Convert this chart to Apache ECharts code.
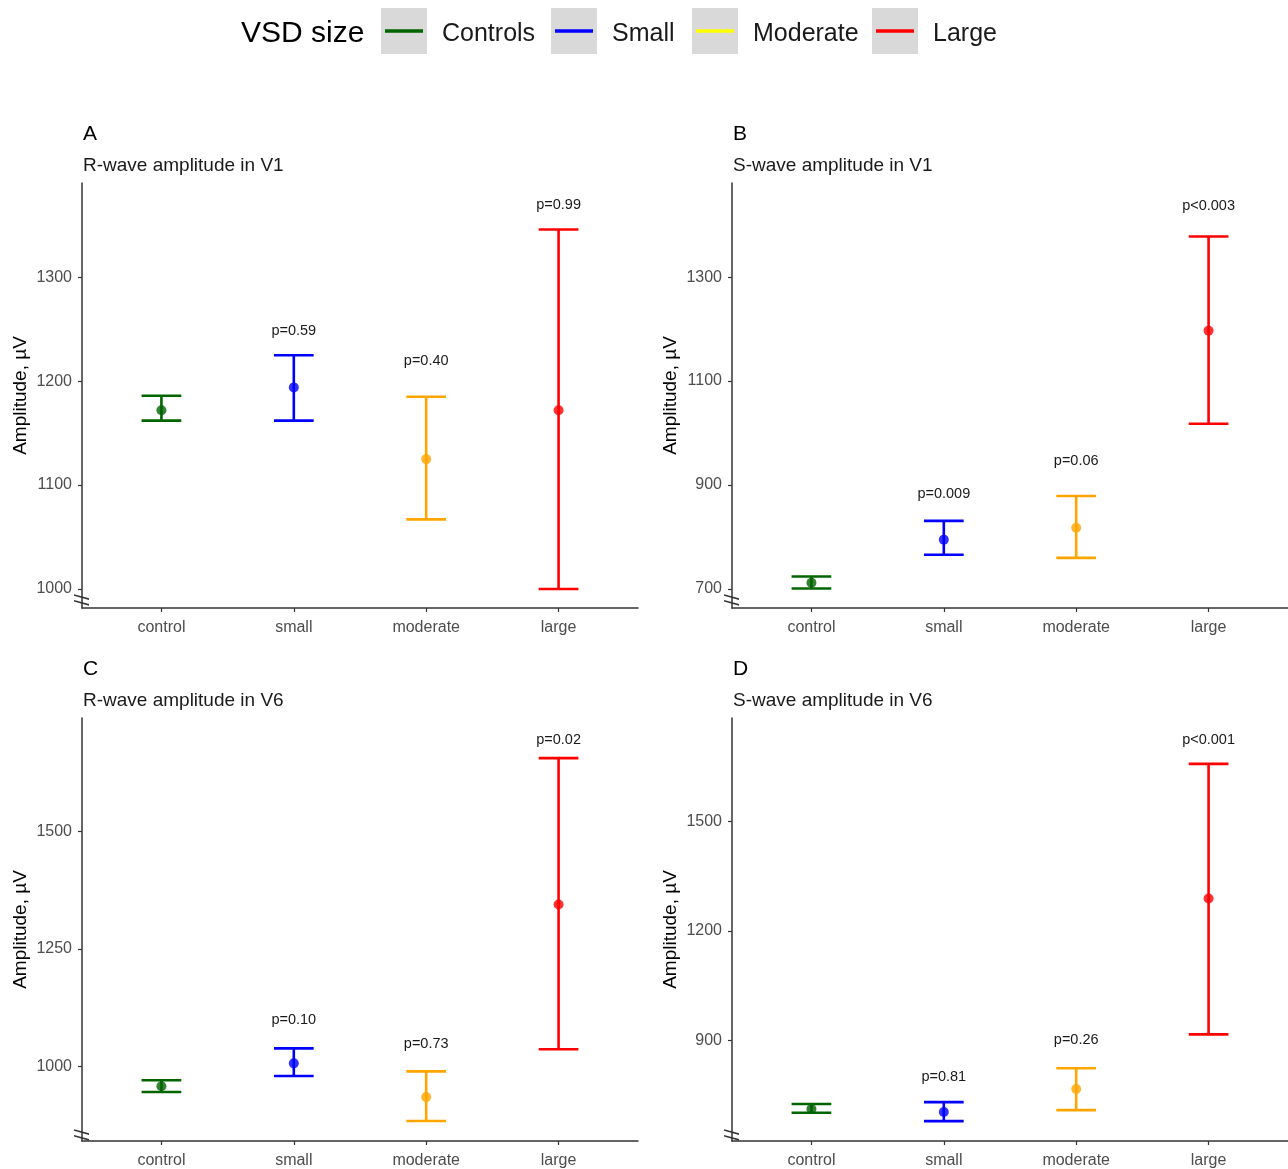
<!DOCTYPE html>
<html>
<head>
<meta charset="utf-8">
<script src="https://cdn.jsdelivr.net/npm/echarts@6/dist/echarts.min.js"></script>
<style>
html,body{margin:0;padding:0;background:#fff;}
#chart{width:1288px;height:1169px;}
</style>
</head>
<body>
<div id="chart"></div>
<script>
// ---------- data ----------
const categories = ['control', 'small', 'moderate', 'large'];
const groupColors = ['#006400', '#0000FF', '#FFA500', '#FF0000'];
const legendNames = ['Controls', 'Small', 'Moderate', 'Large'];
const legendColors = ['#006400', '#0000FF', '#FFFF00', '#FF0000'];

const panelLetters = ['A', 'B', 'C', 'D'];
const panelTitles = ['R-wave amplitude in V1', 'S-wave amplitude in V1', 'R-wave amplitude in V6', 'S-wave amplitude in V6'];

const meanA  = [1172, 1194, 1125, 1172];
const lowerA = [1162, 1162, 1067, 1000];
const upperA = [1186, 1225, 1185, 1346];
const pTextA = ['', 'p=0.59', 'p=0.40', 'p=0.99'];
const pPosA  = [null, 1248, 1219, 1370];

const meanB  = [712, 795, 818, 1197];
const lowerB = [701, 766, 760, 1018];
const upperB = [724, 831, 879, 1378];
const pTextB = ['', 'p=0.009', 'p=0.06', 'p<0.003'];
const pPosB  = [null, 883, 947, 1437];

const meanC  = [957, 1006, 934, 1345];
const lowerC = [945, 979, 883, 1036];
const upperC = [970, 1038, 989, 1657];
const pTextC = ['', 'p=0.10', 'p=0.73', 'p=0.02'];
const pPosC  = [null, 1098, 1047, 1696];

const meanD  = [711, 703, 766, 1289];
const lowerD = [701, 678, 708, 916];
const upperD = [725, 730, 823, 1659];
const pTextD = ['', 'p=0.81', 'p=0.26', 'p<0.001'];
const pPosD  = [null, 799, 900, 1725];

const yTicksA = [1000, 1100, 1200, 1300];
const yTicksB = [700, 900, 1100, 1300];
const yTicksC = [1000, 1250, 1500];
const yTicksD = [900, 1200, 1500];

const yRangeA = [981.7, 1390.7];
const yRangeB = [663.5, 1481];
const yRangeC = [840.4, 1742.6];
const yRangeD = [623.3, 1784.9];

// ---------- layout ----------
const FONT = "'Liberation Sans', Arial, sans-serif";
const panels = [
  {mean: meanA, lower: lowerA, upper: upperA, pText: pTextA, pPos: pPosA, ticks: yTicksA, range: yRangeA, left: 82, top: 183},
  {mean: meanB, lower: lowerB, upper: upperB, pText: pTextB, pPos: pPosB, ticks: yTicksB, range: yRangeB, left: 732, top: 183},
  {mean: meanC, lower: lowerC, upper: upperC, pText: pTextC, pPos: pPosC, ticks: yTicksC, range: yRangeC, left: 82, top: 718},
  {mean: meanD, lower: lowerD, upper: upperD, pText: pTextD, pPos: pPosD, ticks: yTicksD, range: yRangeD, left: 732, top: 718}
];
const GW = 556, GH = 425;
const CAP = 0.15;

const grids = [], xAxes = [], yAxes = [], series = [], titles = [], graphics = [];

panels.forEach((p, i) => {
  grids.push({left: p.left, top: p.top, width: GW, height: GH, containLabel: false});
  xAxes.push({
    type: 'value', gridIndex: i, min: 0.4, max: 4.6,
    splitLine: {show: false},
    axisLine: {show: true, lineStyle: {color: '#333', width: 1.5}},
    axisTick: {show: true, length: 4, lineStyle: {color: '#333', width: 1.2}, customValues: [1, 2, 3, 4]},
    axisLabel: {customValues: [1, 2, 3, 4], formatter: v => categories[Math.round(v) - 1] || '',
      color: '#4D4D4D', fontSize: 16, fontFamily: FONT, margin: 12}
  });
  yAxes.push({
    type: 'value', gridIndex: i, min: p.range[0], max: p.range[1],
    name: 'Amplitude, µV', nameLocation: 'middle', nameGap: 52,
    nameTextStyle: {color: '#000', fontSize: 19, fontFamily: FONT},
    splitLine: {show: false},
    axisLine: {show: true, lineStyle: {color: '#333', width: 1.5}},
    axisTick: {show: true, length: 4, lineStyle: {color: '#333', width: 1.2}, customValues: p.ticks},
    axisLabel: {customValues: p.ticks, formatter: v => String(Math.round(v)),
      color: '#4D4D4D', fontSize: 16, fontFamily: FONT, margin: 10}
  });
  // error bars
  series.push({
    type: 'custom', xAxisIndex: i, yAxisIndex: i,
    data: categories.map((c, k) => [k + 1, p.lower[k], p.upper[k]]),
    renderItem: (params, api) => {
      const x = api.value(0), lo = api.value(1), hi = api.value(2);
      const color = groupColors[params.dataIndex];
      const a = api.coord([x, lo]), b = api.coord([x, hi]);
      const l1 = api.coord([x - CAP, hi]), r1 = api.coord([x + CAP, hi]);
      const l2 = api.coord([x - CAP, lo]), r2 = api.coord([x + CAP, lo]);
      const st = {stroke: color, lineWidth: 2.6};
      return {type: 'group', children: [
        {type: 'line', shape: {x1: a[0], y1: a[1], x2: b[0], y2: b[1]}, style: st},
        {type: 'line', shape: {x1: l1[0], y1: l1[1], x2: r1[0], y2: r1[1]}, style: st},
        {type: 'line', shape: {x1: l2[0], y1: l2[1], x2: r2[0], y2: r2[1]}, style: st}
      ]};
    },
    silent: true, z: 2
  });
  // means
  series.push({
    type: 'scatter', xAxisIndex: i, yAxisIndex: i, symbol: 'circle', symbolSize: 10,
    data: categories.map((c, k) => ({value: [k + 1, p.mean[k]], itemStyle: {color: groupColors[k]}})),
    silent: true, z: 3
  });
  // p labels
  series.push({
    type: 'custom', xAxisIndex: i, yAxisIndex: i,
    data: categories.map((c, k) => [k + 1, p.pPos[k] == null ? NaN : p.pPos[k], k]),
    renderItem: (params, api) => {
      const k = api.value(2);
      const txt = p.pText[k];
      if (!txt) return null;
      const pt = api.coord([api.value(0), api.value(1)]);
      return {type: 'text', x: pt[0], y: pt[1], style: {text: txt, fill: '#1a1a1a', font: '14.5px ' + FONT, align: 'center', verticalAlign: 'middle'}};
    },
    silent: true, z: 4
  });
  titles.push({text: panelLetters[i], left: p.left - 4, top: p.top - 64, textStyle: {fontSize: 21, fontWeight: 'normal', color: '#000', fontFamily: FONT}});
  titles.push({text: panelTitles[i], left: p.left - 4, top: p.top - 32, textStyle: {fontSize: 19, fontWeight: 'normal', color: '#1a1a1a', fontFamily: FONT}});
  // axis break mark
  graphics.push({type: 'text', x: p.left + 1, y: p.top + GH - 8, rotation: Math.PI / 2,
    style: {text: '//', fill: '#333', font: '21px ' + FONT, align: 'center', verticalAlign: 'middle'}, z: 10, silent: true});
});

// legend
graphics.push({type: 'text', x: 241, y: 34, style: {text: 'VSD size', fill: '#000', font: '30px ' + FONT, verticalAlign: 'middle'}});
const legX = [381, 551, 692, 872];
legendNames.forEach((n, k) => {
  graphics.push({type: 'rect', shape: {x: legX[k], y: 8, width: 46, height: 46}, style: {fill: '#D9D9D9'}});
  graphics.push({type: 'line', shape: {x1: legX[k] + 4, y1: 31, x2: legX[k] + 42, y2: 31}, style: {stroke: legendColors[k], lineWidth: 3.5}});
  graphics.push({type: 'text', x: legX[k] + 61, y: 34, style: {text: n, fill: '#1a1a1a', font: '25px ' + FONT, verticalAlign: 'middle'}});
});

const chart = echarts.init(document.getElementById('chart'), null, {renderer: 'canvas'});
chart.setOption({
  animation: false,
  backgroundColor: '#fff',
  title: titles,
  grid: grids,
  xAxis: xAxes,
  yAxis: yAxes,
  series: series,
  graphic: graphics
});
</script>
</body>
</html>
